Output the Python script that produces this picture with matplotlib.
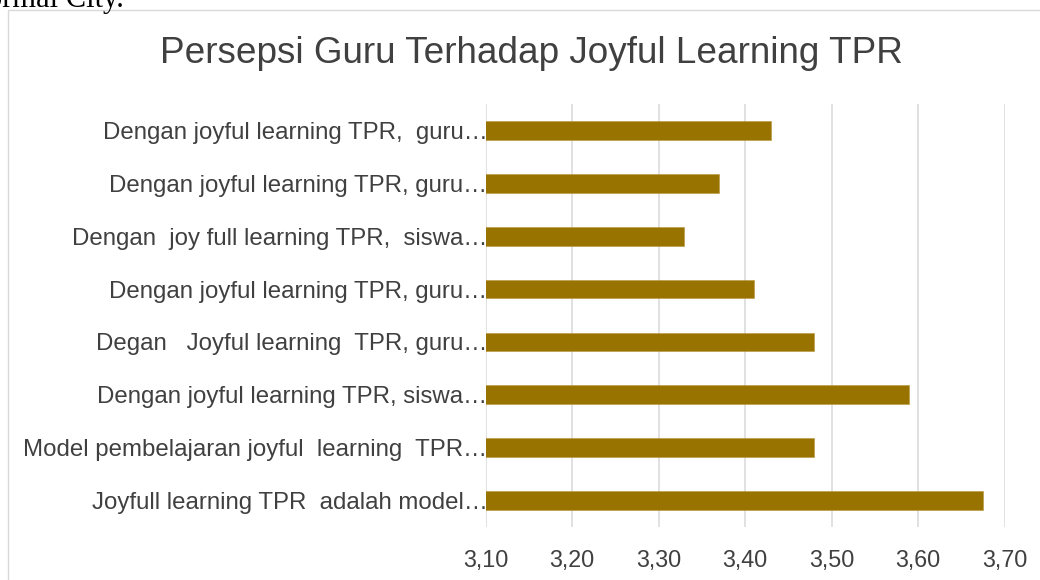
import matplotlib
matplotlib.use("Agg")
import matplotlib.pyplot as plt
from matplotlib.patches import Rectangle
from matplotlib.ticker import FuncFormatter

title = "Persepsi Guru Terhadap Joyful Learning TPR"
categories = [
    "Dengan joyful learning TPR,  guru\u2026",
    "Dengan joyful learning TPR, guru\u2026",
    "Dengan  joy full learning TPR,  siswa\u2026",
    "Dengan joyful learning TPR, guru\u2026",
    "Degan   Joyful learning  TPR, guru\u2026",
    "Dengan joyful learning TPR, siswa\u2026",
    "Model pembelajaran joyful  learning  TPR\u2026",
    "Joyfull learning TPR  adalah model\u2026",
]
values = [3.43, 3.37, 3.33, 3.41, 3.48, 3.59, 3.48, 3.675]
x_ticks = [3.10, 3.20, 3.30, 3.40, 3.50, 3.60, 3.70]

plt.rcParams['font.family'] = ['Liberation Sans', 'DejaVu Sans']
text_color = '#404040'
bar_color = '#997300'
grid_color = '#d9d9d9'

W, H = 1040, 580
fig = plt.figure(figsize=(W / 100, H / 100), dpi=100)
fig.patch.set_facecolor('white')

# chart frame
fig.patches.append(Rectangle((7.5 / W, -0.05), 1.2, 1.05 - 9.5 / H,
                             transform=fig.transFigure, fill=False,
                             edgecolor=grid_color, linewidth=1.0, clip_on=False))

# document text above the chart, cropped at the top edge as in the reference
fig.text(-13 / W, 1 - 6.5 / H, "ormal City.", family='Liberation Serif',
         fontsize=22, color='black', ha='left', va='baseline')

ax = fig.add_axes([485.5 / W, 1 - 527 / H, 519 / W, 423 / H])
n = len(categories)
ypos = list(range(n))[::-1]
ax.barh(ypos, values, left=0, height=0.355, color=bar_color,
        edgecolor='#b8963a', linewidth=0.4, zorder=3)

ax.set_xlim(x_ticks[0], x_ticks[-1])
ax.set_ylim(-0.5, n - 0.5)
ax.set_xticks(x_ticks)
ax.xaxis.set_major_formatter(FuncFormatter(lambda v, p: f"{v:.2f}".replace('.', ',')))
ax.set_yticks(ypos)
ax.set_yticklabels(categories)

for s in ax.spines.values():
    s.set_visible(False)
ax.tick_params(axis='both', length=0, colors=text_color)
ax.tick_params(axis='x', pad=16, labelsize=16.8)
ax.tick_params(axis='y', pad=-1.5, labelsize=17.25)
ax.grid(axis='x', color=grid_color, linewidth=1.1, zorder=0)
ax.set_axisbelow(True)

fig.text(531.5 / W, 1 - 62.7 / H, title, ha='center', va='baseline',
         fontsize=26.6, color=text_color)

fig.savefig('out.png', dpi=100, facecolor='white')
